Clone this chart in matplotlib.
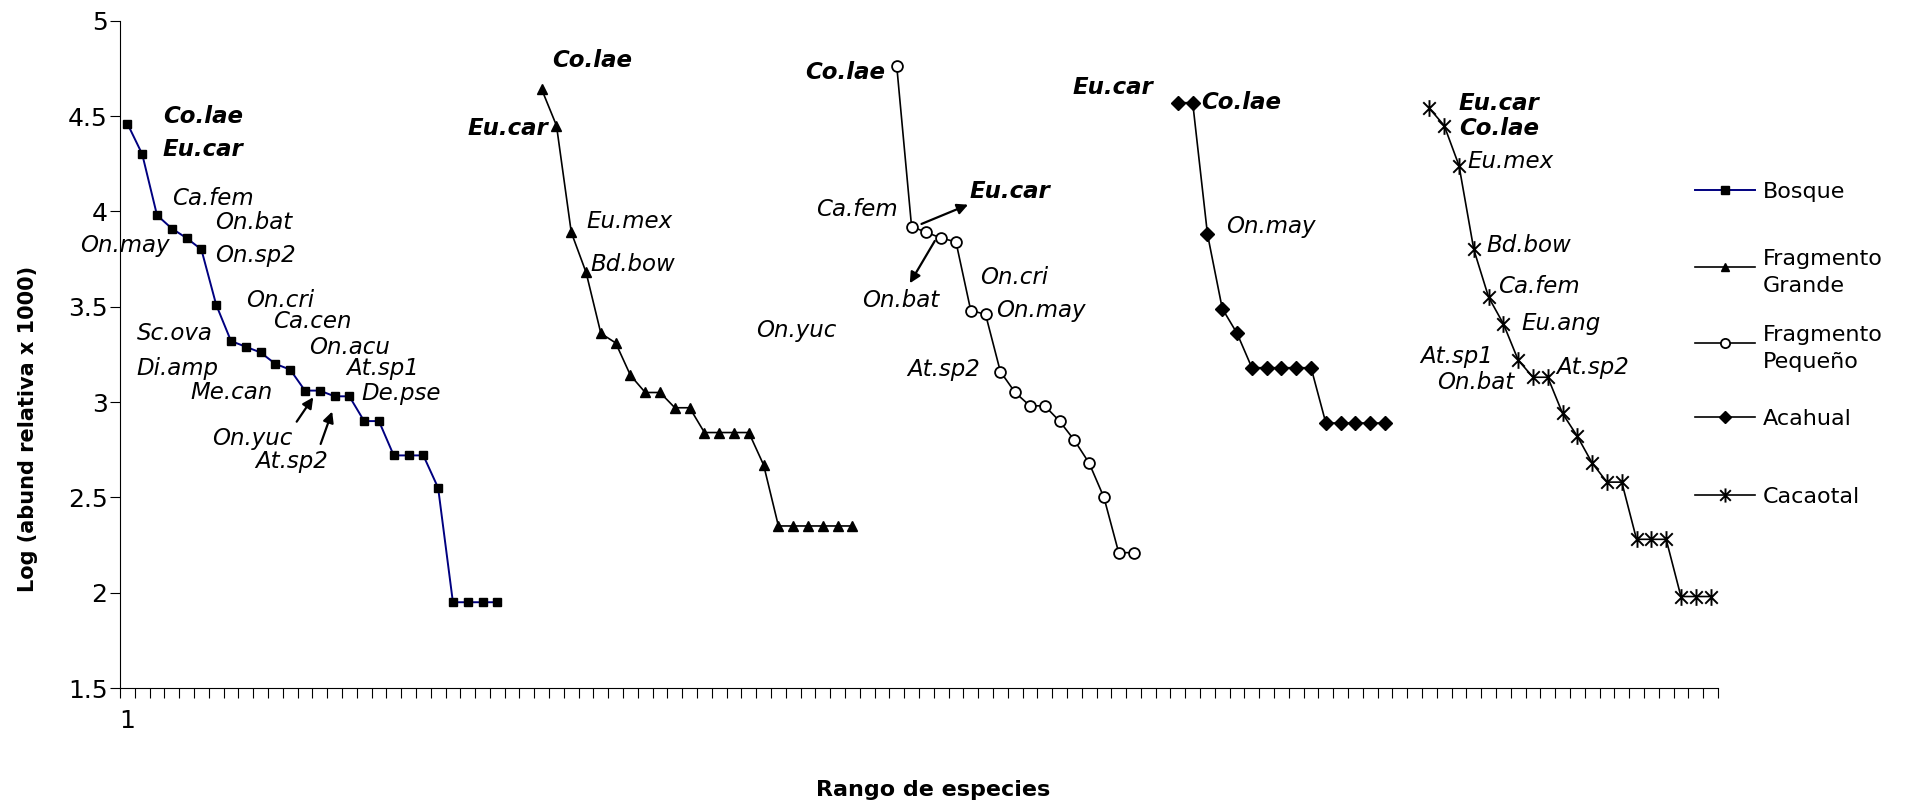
import matplotlib
matplotlib.use('Agg')
import matplotlib.pyplot as plt
import numpy as np
from matplotlib.path import Path
from matplotlib.lines import Line2D
from matplotlib.ticker import FuncFormatter

plt.rcParams['font.family'] = 'DejaVu Sans'

# log (abundancia relativa x 1000) ordenada por rango, un bloque por sitio
bosque = [4.46, 4.30, 3.98, 3.91, 3.86, 3.80, 3.51, 3.32, 3.29, 3.26, 3.20, 3.17,
          3.06, 3.06, 3.03, 3.03, 2.90, 2.90, 2.72, 2.72, 2.72, 2.55,
          1.95, 1.95, 1.95, 1.95]
frag_grande = [4.64, 4.45, 3.89, 3.68, 3.36, 3.31, 3.14, 3.05, 3.05, 2.97, 2.97,
               2.84, 2.84, 2.84, 2.84, 2.67, 2.35, 2.35, 2.35, 2.35, 2.35, 2.35]
frag_pequeno = [4.76, 3.92, 3.89, 3.86, 3.84, 3.48, 3.46, 3.16, 3.05, 2.98, 2.98,
                2.90, 2.80, 2.68, 2.50, 2.21, 2.21]
acahual = [4.57, 4.57, 3.88, 3.49, 3.36, 3.18, 3.18, 3.18, 3.18, 3.18,
           2.89, 2.89, 2.89, 2.89, 2.89]
cacaotal = [4.54, 4.45, 4.24, 3.80, 3.55, 3.41, 3.22, 3.13, 3.13, 2.94, 2.82,
            2.68, 2.58, 2.58, 2.28, 2.28, 2.28, 1.98, 1.98, 1.98]

# columna donde empieza cada bloque (hay dos columnas vacias entre sitios)
starts = [1, 29, 53, 72, 89]
n_cat = 108

nombres = ['Bosque', 'Fragmento\nGrande', 'Fragmento\nPeque\u00f1o', 'Acahual', 'Cacaotal']

# asterisco tipo Excel: X con una barra vertical
star = Path([(0, -1), (0, 1), (-0.75, -0.75), (0.75, 0.75), (-0.75, 0.75), (0.75, -0.75)],
            [Path.MOVETO, Path.LINETO, Path.MOVETO, Path.LINETO, Path.MOVETO, Path.LINETO])

estilos = [
    dict(color='#000080', lw=1.4, marker='s', ms=6, mfc='black', mec='black'),
    dict(color='black', lw=1.2, marker='^', ms=7.5, mfc='black', mec='black'),
    dict(color='black', lw=1.2, marker='o', ms=7.8, mfc='white', mec='black', mew=1.3),
    dict(color='black', lw=1.2, marker='D', ms=7, mfc='black', mec='black'),
    dict(color='black', lw=1.2, marker=star, ms=12, mfc='none', mec='black', mew=1.4),
]

# etiquetas de especies: (texto, x, y, alineacion, negrita)
etiquetas = [
    ('Co.lae', 3.39, 4.497, 'left', True), ('Eu.car', 3.39, 4.322, 'left', True),
    ('Ca.fem', 3.99, 4.069, 'left', False), ('On.bat', 6.92, 3.943, 'left', False),
    ('On.may', 3.88, 3.819, 'right', False), ('On.sp2', 6.92, 3.771, 'left', False),
    ('On.cri', 9.01, 3.535, 'left', False), ('Ca.cen', 10.86, 3.422, 'left', False),
    ('Sc.ova', 1.63, 3.361, 'left', False), ('On.acu', 13.29, 3.285, 'left', False),
    ('Di.amp', 1.63, 3.174, 'left', False), ('At.sp1', 15.82, 3.177, 'left', False),
    ('Me.can', 5.23, 3.049, 'left', False), ('De.pse', 16.83, 3.046, 'left', False),
    ('On.yuc', 6.74, 2.810, 'left', False), ('At.sp2', 9.62, 2.687, 'left', False),

    ('Co.lae', 29.74, 4.791, 'left', True), ('Eu.car', 29.44, 4.436, 'right', True),
    ('Eu.mex', 32.03, 3.949, 'left', False), ('Bd.bow', 32.26, 3.720, 'left', False),
    ('On.yuc', 43.52, 3.373, 'left', False),

    ('Co.lae', 52.19, 4.727, 'right', True), ('Ca.fem', 53.09, 4.009, 'right', False),
    ('Eu.car', 57.93, 4.105, 'left', True), ('On.bat', 53.27, 3.533, 'center', False),
    ('On.cri', 58.61, 3.654, 'left', False), ('On.may', 59.74, 3.479, 'left', False),
    ('At.sp2', 58.61, 3.172, 'right', False),

    ('Eu.car', 70.32, 4.651, 'right', True), ('Co.lae', 73.59, 4.571, 'left', True),
    ('On.may', 75.23, 3.921, 'left', False),

    ('Eu.car', 90.99, 4.565, 'left', True), ('Co.lae', 91.04, 4.435, 'left', True),
    ('Eu.mex', 91.60, 4.264, 'left', False), ('Bd.bow', 92.84, 3.823, 'left', False),
    ('Ca.fem', 93.63, 3.606, 'left', False), ('Eu.ang', 95.21, 3.412, 'left', False),
    ('At.sp1', 93.29, 3.241, 'right', False), ('On.bat', 94.76, 3.101, 'right', False),
    ('At.sp2', 97.57, 3.181, 'left', False),
]

# flechas: (cola, punta)
flechas = [
    ((12.44, 2.897), (13.56, 3.025)),
    ((14.06, 2.780), (14.84, 2.950)),
    ((54.67, 3.934), (57.82, 4.035)),
    ((55.57, 3.845), (53.88, 3.623)),
]

fig = plt.figure(figsize=(19.05, 8.02), dpi=100)
ax = fig.add_axes([0.063, 0.1421, 0.8388, 0.8321])

series = [bosque, frag_grande, frag_pequeno, acahual, cacaotal]
for vals, x0, st in zip(series, starts, estilos):
    x = np.arange(x0, x0 + len(vals))
    ax.plot(x, vals, clip_on=False, **st)

for txt, x, y, ha, bold in etiquetas:
    ax.text(x, y, txt, ha=ha, va='center', fontsize=16.5, style='italic',
            fontweight='bold' if bold else 'normal')

for cola, punta in flechas:
    ax.annotate('', xy=punta, xytext=cola,
                arrowprops=dict(arrowstyle='-|>', color='black', lw=1.6,
                                mutation_scale=16, shrinkA=0, shrinkB=0))

ax.set_xlim(0.5, n_cat + 0.5)
ax.set_ylim(1.5, 5)
for s in ['top', 'right']:
    ax.spines[s].set_visible(False)
for s in ['left', 'bottom']:
    ax.spines[s].set_linewidth(0.8)

ax.set_xticks(np.arange(0.5, n_cat + 1, 1))
ax.set_xticklabels([])
ax.set_xticks([1], ['1'], minor=True)
ax.tick_params(axis='x', which='major', direction='out', length=7, width=0.8)
ax.tick_params(axis='x', which='minor', length=0, pad=15, labelsize=18)
ax.set_yticks(np.arange(1.5, 5.01, 0.5))
ax.yaxis.set_major_formatter(FuncFormatter(lambda v, p: '%g' % v))
ax.tick_params(axis='y', direction='out', length=7, width=0.8, labelsize=18, pad=2)

fig.text(28 / 1905, 1 - 429 / 802, 'Log (abund relativa x 1000)', rotation=90,
         ha='center', va='center', fontsize=15, fontweight='bold')
fig.text(933 / 1905, 1 - 790 / 802, 'Rango de especies', ha='center', va='center',
         fontsize=16, fontweight='bold')

# leyenda a la derecha
W, H = 1905.0, 802.0
ley_y = [190, 267, 343, 417, 495]
for nombre, yy, st in zip(nombres, ley_y, estilos):
    yf = 1 - yy / H
    fig.add_artist(Line2D([1695 / W, 1755 / W], [yf, yf], transform=fig.transFigure,
                          color=st['color'], lw=st['lw']))
    mk = {k: v for k, v in st.items() if k not in ('color', 'lw')}
    mk['ms'] = st['ms'] * 0.85
    fig.add_artist(Line2D([1725 / W], [yf], transform=fig.transFigure, ls='none', **mk))
    fig.text(1763 / W, yf, nombre, ha='left', va='center_baseline', fontsize=16,
             linespacing=1.45)

fig.savefig('out.png', dpi=100)
